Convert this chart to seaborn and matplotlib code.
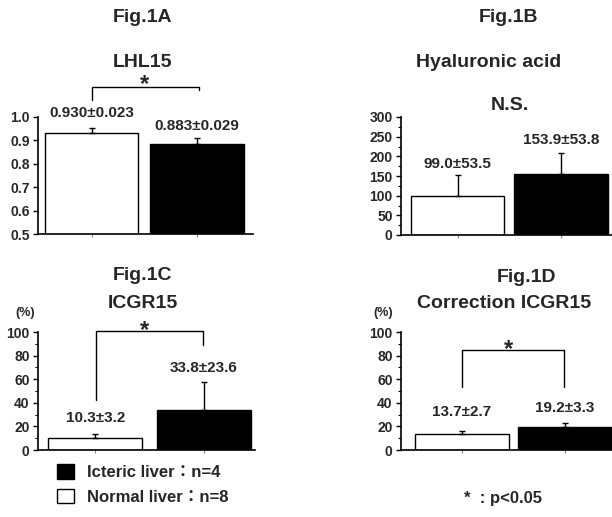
import numpy as np
import pandas as pd
import matplotlib
matplotlib.use("Agg")
import matplotlib.pyplot as plt
import seaborn as sns
from matplotlib.patches import Patch
from matplotlib.ticker import MultipleLocator, NullLocator

W, H = 612, 517

GROUPS = ["Normal liver", "Icteric liver"]
N_CASES = [8, 4]
COLORS = {"Normal liver": "white", "Icteric liver": "black"}

LHL15_MEAN = [0.930, 0.883]
LHL15_SD = [0.023, 0.029]
HA_MEAN = [99.0, 153.9]
HA_SD = [53.5, 53.8]
ICGR15_MEAN = [10.3, 33.8]
ICGR15_SD = [3.2, 23.6]
CORR_MEAN = [13.7, 19.2]
CORR_SD = [2.7, 3.3]

sns.set_theme(style="ticks")
plt.rcParams["font.family"] = ["Liberation Sans", "Noto Sans CJK JP"]
plt.rcParams["font.weight"] = "bold"
plt.rcParams["axes.linewidth"] = 1.2


def px_axes(fig, left, top, right, bottom):
    # 픽셀 좌표 -> figure 비율
    return fig.add_axes([left / W, 1 - bottom / H, (right - left) / W, (bottom - top) / H])


def ftext(fig, x, y, s, size=14, **kw):
    fig.text(x / W, 1 - y / H, s, ha="center", va="center", fontsize=size,
             fontweight="bold", **kw)


def panel(ax, means, sds, fmt, ylim, major, minor, xlim, width, label_off):
    df = pd.DataFrame({"group": GROUPS, "mean": means})
    sns.barplot(data=df, x="group", y="mean", hue="group", palette=COLORS,
                width=width, edgecolor="black", linewidth=1.0, errorbar=None,
                legend=False, ax=ax)
    xs = np.arange(len(means))
    ax.errorbar(xs, means, yerr=[np.zeros(len(sds)), sds], fmt="none",
                ecolor="black", elinewidth=1.0, capsize=2.5, capthick=1.0)
    for x, m, s, off in zip(xs, means, sds, label_off):
        ax.annotate(f"{m:{fmt}}±{s:{fmt}}", xy=(x, m + s), xytext=(0, off * 0.72),
                    textcoords="offset points", ha="center", va="center",
                    fontsize=11, fontweight="bold")
    ax.set_ylim(*ylim)
    ax.set_xlim(*xlim)
    ax.yaxis.set_major_locator(MultipleLocator(major))
    if minor:
        ax.yaxis.set_minor_locator(MultipleLocator(minor))
    else:
        ax.yaxis.set_minor_locator(NullLocator())
    ax.set_xticks(xs)
    ax.set_xticklabels(["", ""])
    ax.tick_params(axis="y", which="major", direction="out", length=3.5, width=1.0,
                   pad=2.5, labelsize=10, color="black")
    ax.tick_params(axis="y", which="minor", direction="out", length=2, width=0.8, color="black")
    ax.tick_params(axis="x", direction="out", length=2.5, width=0.8, color="#888888")
    ax.set_xlabel("")
    ax.set_ylabel("")
    for s in ["top", "right"]:
        ax.spines[s].set_visible(False)
    for s in ["left", "bottom"]:
        ax.spines[s].set_color("black")
    ax.set_facecolor("white")


def bracket(ax, x0, x1, y_left, y_top, y_right, star_x, star_y):
    ax.plot([x0, x0, x1, x1], [y_left, y_top, y_top, y_right], color="black",
            lw=1.0, clip_on=False)
    ax.text(star_x, star_y, "*", ha="center", va="center", fontsize=17,
            fontweight="bold", clip_on=False)


fig = plt.figure(figsize=(W / 100, H / 100), dpi=100)
fig.patch.set_facecolor("white")

# Fig.1A
ax_a = px_axes(fig, 38, 117, 253, 234)
panel(ax_a, LHL15_MEAN, LHL15_SD, ".3f", (0.5, 1.0), 0.1, None,
      (-0.51, 1.53), 0.886, [15, 12])
bracket(ax_a, 0, 1.02, 1.073, 1.128, 1.115, 0.5, 1.138)

# Fig.1B
ax_b = px_axes(fig, 401, 117, 612, 235)
panel(ax_b, HA_MEAN, HA_SD, ".1f", (0, 300), 50, 25,
      (-0.546, 1.493), 0.9, [11, 13])

# Fig.1C
ax_c = px_axes(fig, 38, 332, 255, 450)
panel(ax_c, ICGR15_MEAN, ICGR15_SD, ".1f", (0, 100), 20, 10,
      (-0.528, 1.472), 0.87, [16, 14])
bracket(ax_c, 0.01, 0.99, 42.4, 100.8, 89, 0.45, 101.5)

# Fig.1D
ax_d = px_axes(fig, 401, 332, 612, 450)
panel(ax_d, CORR_MEAN, CORR_SD, ".1f", (0, 100), 20, 10,
      (-0.592, 1.456), 0.91, [18.5, 15.5])
bracket(ax_d, 0, 0.99, 53.4, 84.7, 53.4, 0.45, 85)

ftext(fig, 143, 17, "Fig.1A")
ftext(fig, 143, 63, "LHL15")
ftext(fig, 508, 17, "Fig.1B")
ftext(fig, 489, 63, "Hyaluronic acid")
ftext(fig, 510, 105, "N.S.")
ftext(fig, 143, 275, "Fig.1C")
ftext(fig, 143, 303, "ICGR15")
ftext(fig, 526, 278, "Fig.1D")
ftext(fig, 504, 303, "Correction ICGR15")
ftext(fig, 25, 313, "(%)", size=9)
ftext(fig, 383, 313, "(%)", size=9)
ftext(fig, 503, 499, "*  : p<0.05", size=12)

# 범례: 황달군 먼저
handles = [Patch(facecolor=COLORS[g], edgecolor="black", linewidth=1.0,
                 label=f"{g.split()[0]} liver：n={n}")
           for g, n in zip(GROUPS[::-1], N_CASES[::-1])]
fig.legend(handles=handles, loc="upper left", bbox_to_anchor=(57 / W, 1 - 464 / H),
           frameon=False, fontsize=12, handlelength=1.0, handleheight=1.0,
           handletextpad=0.8, labelspacing=0.5, borderpad=0, borderaxespad=0,
           prop={"weight": "bold", "size": 12})

fig.savefig("out.png", dpi=100, facecolor="white")
